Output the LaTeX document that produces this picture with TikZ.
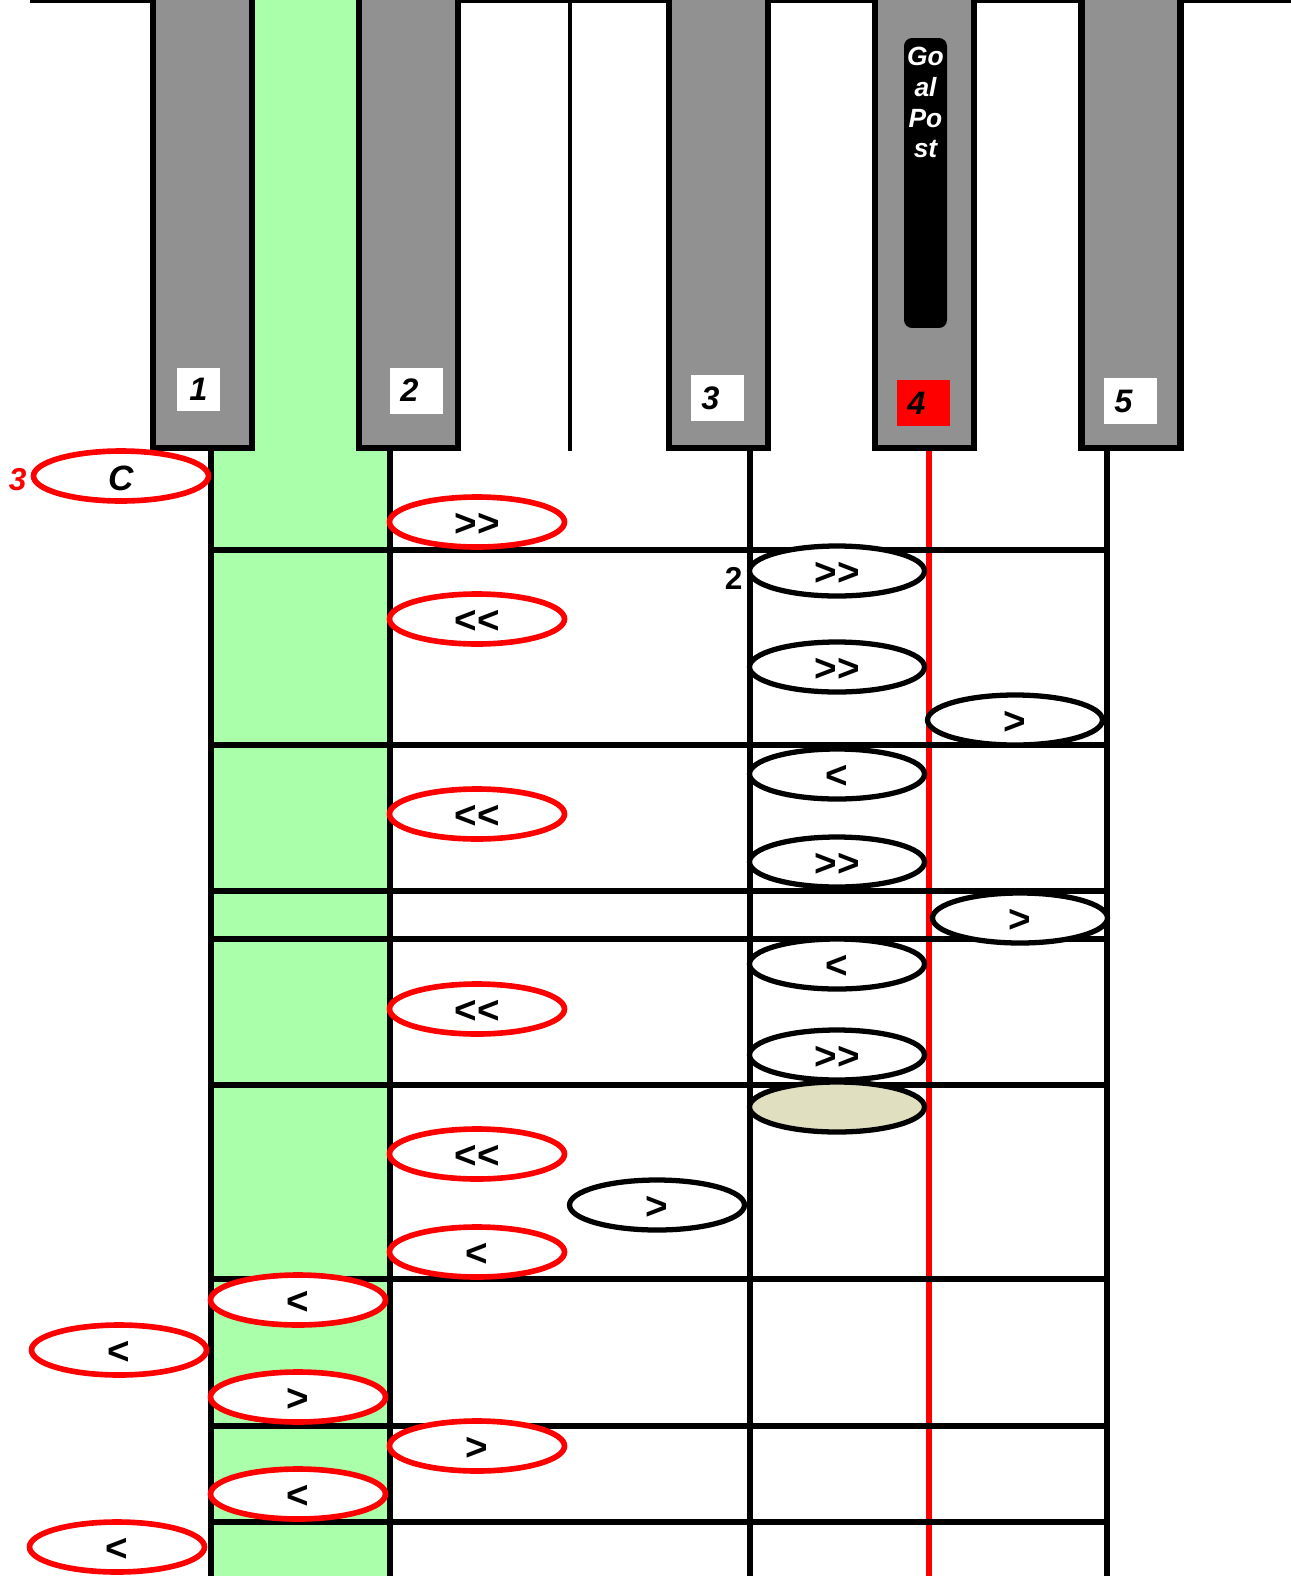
\documentclass[tikz,border=0pt]{standalone}
\usepackage{fontspec}
\setmainfont{Liberation Sans}
\usetikzlibrary{shapes,positioning}

\definecolor{keygray}{RGB}{145,145,145}
\definecolor{lanegreen}{RGB}{170,255,170}
\definecolor{parked}{RGB}{224,224,192}

% double arrows, kept apart so they do not turn into guillemets
\newcommand{\fwdfwd}{>\kern0pt>}
\newcommand{\backback}{<\kern0pt<}
% digit set a little left of the box centre
\newcommand{\keynum}[1]{\hspace*{-0.28cm}#1}

\tikzset{
        % Keys along the top
        key_body/.style={draw=black, fill=keygray, line width=3.5pt, anchor=south,
                minimum width=1.98cm, minimum height=9.8cm, inner sep=0pt},
        % Numbers on the keys
        key_label/.style={fill=white, inner sep=0pt, minimum width=1.06cm, minimum height=0.92cm,
                font=\fontsize{18.5}{20}\selectfont\bfseries\itshape},
        % Goal post
        goal_post/.style={fill=black, rounded corners=0.16cm, minimum width=0.86cm, minimum height=5.8cm, inner sep=0pt},
        goal_text/.style={white, align=center, inner sep=0pt, font=\fontsize{15}{17.6}\selectfont\bfseries\itshape},
        % Grid lines
        grid/.style={black, line width=3.1pt},
        % Moves in red
        move_red/.style={ellipse, draw=red, line width=3.2pt, fill=white, inner sep=0pt,
                text height=17pt, text depth=0pt,
                minimum width=3.5cm, minimum height=1.0cm, font=\fontsize{22}{24}\selectfont\bfseries},
        % Moves in black
        move_black/.style={move_red, draw=black, line width=3pt},
        % Small counts next to a move
        tag/.style={inner sep=0pt, font=\fontsize{18}{20}\selectfont\bfseries}
}

\begin{document}
\begin{tikzpicture}[x=0.02cm, y=-0.02cm]
    \useasboundingbox (0,0) rectangle (1291,1576);

    % top edge and green lane
    \draw[grid] (30,0) -- (1300,0);
    \fill[lanegreen] (211,-10) rectangle (390,1600);
    \draw[black, line width=2.5pt] (570,-10) -- (570,451);

    % keys
    \node[key_body] (key1) at (202.5,451) {};
    \node[key_body] (key2) at (408.5,451) {};
    \node[key_body] (key3) at (718.5,451) {};
    \node[key_body] (key4) at (924.5,451) {};
    \node[key_body] (key5) at (1131,451) {};

    \node[key_label, minimum width=0.86cm, minimum height=0.86cm] (lab1) at (198.5,389.5) {1};
    \node[key_label] (lab2) at (416.5,390.5) {\keynum{2}};
    \node[key_label] (lab3) at (717.5,398) {\keynum{3}};
    \node[key_label, fill=red] (lab4) at (923.5,403) {\keynum{4}};
    \node[key_label] (lab5) at (1130.5,401) {\keynum{5}};

    \node[goal_post] (goal) at (925.5,183) {};
    \node[goal_text] (goal_txt) at (925.5,102.5) {Go\\al\\Po\\st};

    % lanes
    \draw[grid] (211,451) -- (211,1600);
    \draw[grid] (390,451) -- (390,1600);
    \draw[grid] (750,451) -- (750,1600);
    \draw[grid] (1107,451) -- (1107,1600);
    \draw[red, line width=2.9pt] (929,451) -- (929,1600);
    \foreach \y in {550,745,891,939,1085,1279,1426,1522}
        \draw[grid] (211,\y) -- (1107,\y);

    % red moves
    \node[move_red, font=\fontsize{20}{24}\selectfont\bfseries] (start) at (121,476) {\itshape C};
    \node[tag, red, left=0.08cm of start.west, yshift=-0.08cm] (start_n) {\itshape 3};
    \node[move_red] (r1) at (477,522) {\fwdfwd};
    \node[move_red] (r2) at (477,619) {\backback};
    \node[move_red] (r3) at (477,814) {\backback};
    \node[move_red] (r4) at (477,1009) {\backback};
    \node[move_red] (r5) at (477,1154) {\backback};
    \node[move_red] (r6) at (477,1252) {<};
    \node[move_red] (r7) at (477,1446) {>};
    \node[move_red] (r8) at (298,1300) {<};
    \node[move_red] (r9) at (298,1397) {>};
    \node[move_red] (r10) at (298,1494) {<};
    \node[move_red] (r11) at (119,1350) {<};
    \node[move_red] (r12) at (117,1547) {<};

    % black moves
    \node[move_black] (b1) at (837,571) {\fwdfwd};
    \node[tag, left=0.08cm of b1.west, yshift=-0.14cm] (b1_n) {2};
    \node[move_black] (b2) at (837,667) {\fwdfwd};
    \node[move_black] (b3) at (1015,720) {>};
    \node[move_black] (b4) at (837,774) {<};
    \node[move_black] (b5) at (837,862) {\fwdfwd};
    \node[move_black] (b6) at (1020,918) {>};
    \node[move_black] (b7) at (837,964) {<};
    \node[move_black] (b8) at (837,1055) {\fwdfwd};
    \node[move_black, fill=parked] (b9) at (837,1107) {};
    \node[move_black] (b10) at (657,1205) {>};
\end{tikzpicture}
\end{document}
